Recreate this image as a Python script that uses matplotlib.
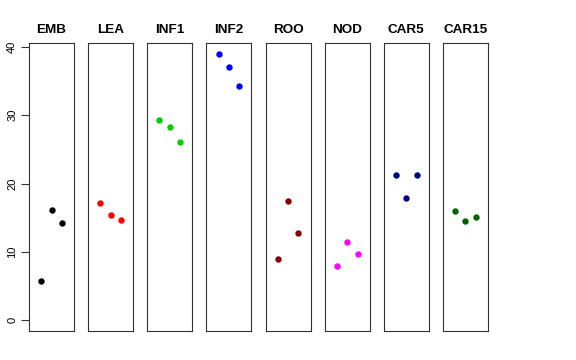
import matplotlib
matplotlib.use('Agg')
import matplotlib.pyplot as plt

# ── Datos ────────────────────────────────────────────────────────────────────
grupos = ['EMB', 'LEA', 'INF1', 'INF2', 'ROO', 'NOD', 'CAR5', 'CAR15']
colores = ['black', '#FF0000', '#00CD00', '#0000FF',
           '#8B0000', '#FF00FF', '#00008B', '#006400']
posiciones = [1, 2, 3]
valores = [
    [5.8, 16.2, 14.2],
    [17.1, 15.4, 14.7],
    [29.3, 28.3, 26.1],
    [39.0, 37.1, 34.3],
    [8.9, 17.5, 12.8],
    [7.9, 11.4, 9.7],
    [21.2, 17.9, 21.2],
    [16.0, 14.5, 15.1],
]
yticks = [0, 10, 20, 30, 40]

plt.rcParams['font.family'] = ['Liberation Sans', 'DejaVu Sans']

fig, axes = plt.subplots(1, len(grupos), figsize=(5.76, 3.6), dpi=100)
fig.subplots_adjust(left=29 / 576, right=488 / 576,
                    top=1 - 43 / 360, bottom=1 - 331 / 360, wspace=0.314)

for i, (ax, nombre, col, ys) in enumerate(zip(axes, grupos, colores, valores)):
    ax.plot(posiciones, ys, 'o', color=col, markersize=4.6, markeredgewidth=0)
    ax.set_xlim(-0.16, 4.16)
    ax.set_ylim(-1.56, 40.56)
    ax.set_title(nombre, fontsize=9.7, fontweight='bold', pad=7)
    ax.set_xticks([])
    for sp in ax.spines.values():
        sp.set_linewidth(0.8)
        sp.set_color('#333333')
    if i == 0:
        ax.set_yticks(yticks)
        ax.tick_params(axis='y', length=5.5, width=0.8, pad=3,
                       labelsize=8, color='#333333')
        for lab in ax.get_yticklabels():
            lab.set_rotation(90)
            lab.set_va('center')
    else:
        ax.set_yticks([])

fig.savefig('out.png', dpi=100)
